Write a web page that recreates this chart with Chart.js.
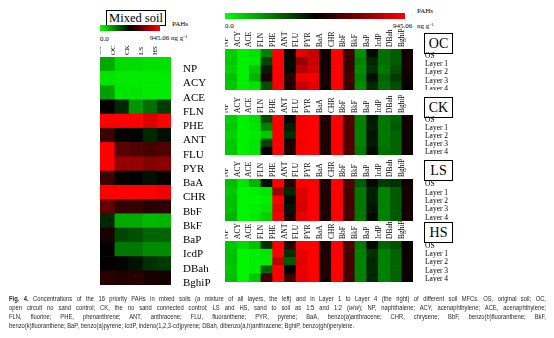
<!DOCTYPE html>
<html>
<head>
<meta charset="utf-8">
<script src="https://cdn.jsdelivr.net/npm/chart.js@4.4.0/dist/chart.umd.min.js"></script>
<style>
  html, body { margin: 0; padding: 0; background: #fff; }
  #page { position: relative; width: 554px; height: 338px; overflow: hidden;
          font-family: "Liberation Serif", "Times New Roman", serif; color: #000; }
  canvas { position: absolute; }
  .grad { position: absolute; height: 6px;
          background: linear-gradient(to right, #00ff00, #000000 50%, #ff0000); }
  .tiny { position: absolute; font-size: 7px; line-height: 8px; white-space: nowrap; }
  .tiny sup { font-size: 5px; vertical-align: 2px; line-height: 0; }
  .box { position: absolute; border: 1px solid #000; text-align: center; white-space: nowrap; }
  .cap { position: absolute; left: 9px; font-family: "Liberation Sans", sans-serif;
         font-size: 7px; line-height: 9px; white-space: nowrap; color: #231f20; transform-origin: 0 0; }
</style>
</head>
<body>
<div id="page">
  <!-- left legend -->
  <div class="box" style="left:106px; top:10px; width:58px; height:14px; font-size:12.5px; line-height:14px;">Mixed soil</div>
  <div class="grad" style="left:100px; top:25px; width:60px;"></div>
  <div class="tiny" style="left:172px; top:20px;">PAHs</div>
  <div class="tiny" style="left:100px; top:35px;">0.0</div>
  <div class="tiny" style="left:150px; top:34px;">945.06 ng g<sup>-1</sup></div>

  <!-- right legend -->
  <div class="grad" style="left:225px; top:13px; width:180px;"></div>
  <div class="tiny" style="left:417px; top:7px;">PAHs</div>
  <div class="tiny" style="left:225px; top:22px;">0.0</div>
  <div class="tiny" style="left:393px; top:22px;">945.06</div>
  <div class="tiny" style="left:417px; top:22px;">ng g<sup>-1</sup></div>

  <div class="box" style="left:424px; top:33px; width:27px; height:19px; font-size:14px; line-height:19px;">OC</div>
  <div class="box" style="left:424px; top:97px; width:27px; height:19px; font-size:14px; line-height:19px;">CK</div>
  <div class="box" style="left:424px; top:160px; width:27px; height:19px; font-size:14px; line-height:19px;">LS</div>
  <div class="box" style="left:424px; top:222px; width:27px; height:19px; font-size:14px; line-height:19px;">HS</div>

  <canvas id="mixedChart" width="120" height="255" style="left:100px; top:40px;"></canvas>
  <canvas id="ocChart" width="233" height="61" style="left:225px; top:29px;"></canvas>
  <canvas id="ckChart" width="233" height="60" style="left:225px; top:95px;"></canvas>
  <canvas id="lsChart" width="233" height="62" style="left:225px; top:159px;"></canvas>
  <canvas id="hsChart" width="233" height="61" style="left:225px; top:221px;"></canvas>

  <div class="cap" id="cap1" style="top:294px;"><b>Fig. 4.</b> Concentrations of the 16 priority PAHs in mixed soils (a mixture of all layers, the left) and in Layer 1 to Layer 4 (the right) of different soil MFCs. OS, original soil; OC,</div>
  <div class="cap" id="cap2" style="top:303px;">open circuit no sand control; CK, the no sand connected control; LS and HS, sand to soil as 1:5 and 1:2 (<i>w</i>/<i>w</i>); NP, naphthalene; ACY, acenaphthylene; ACE, acenaphthylene;</div>
  <div class="cap" id="cap3" style="top:312px;">FLN, fluorine; PHE, phenanthrene; ANT, anthracene; FLU, fluoranthene; PYR, pyrene; BaA, benzo(a)anthracene; CHR, chrysene; BbF, benzo(b)fluoranthene; BkF,</div>
  <div class="cap" id="cap4" style="top:321px;">benzo(k)fluoranthene; BaP, benzo(a)pyrene; IcdP, indeno(1,2,3-cd)pyrene; DBah, dibenzo(a,h)anthracene; BghiP, benzo(ghi)perylene.</div>
</div>

<script>
// Colour scale: 0 -> green, middle -> black, 945.06 ng/g -> red
const SCALE_MAX = 945.06;
const SERIF = '"Liberation Serif", "Times New Roman", serif';

const pahs = ['NP', 'ACY', 'ACE', 'FLN', 'PHE', 'ANT', 'FLU', 'PYR', 'BaA', 'CHR', 'BbF', 'BkF', 'BaP', 'IcdP', 'DBah', 'BghiP'];
const soils = ['OS', 'OC', 'CK', 'LS', 'HS'];
const layers = ['OS', 'Layer 1', 'Layer 2', 'Layer 3', 'Layer 4'];

// Mixed soil, one array per soil (NP ... BghiP), ng/g
const mixedOS = [158, 46, 176, 472, 990, 584, 990, 990, 584, 990, 658, 398, 519, 482, 482, 547];
const mixedOC = [65, 37, 46, 398, 990, 482, 640, 750, 482, 990, 565, 158, 343, 250, 463, 537];
const mixedCK = [65, 37, 46, 195, 990, 472, 621, 750, 472, 990, 575, 158, 324, 250, 435, 547];
const mixedLS = [56, 37, 37, 269, 880, 398, 602, 712, 445, 990, 547, 130, 287, 213, 380, 519];
const mixedHS = [56, 37, 37, 361, 960, 445, 621, 730, 482, 917, 556, 139, 287, 213, 361, 510];

// Layer panels, one array per row (OS, Layer 1 ... Layer 4), columns NP ... BghiP
const panelOC = [
    [83, 28, 56, 232, 990, 491, 899, 843, 510, 990, 584, 213, 454, 269, 306, 510],
    [102, 28, 37, 343, 990, 454, 750, 843, 510, 990, 584, 232, 398, 269, 306, 510],
    [83, 28, 102, 417, 990, 454, 806, 862, 510, 990, 584, 213, 380, 250, 324, 510],
    [120, 28, 139, 528, 990, 547, 917, 917, 519, 990, 602, 232, 445, 287, 361, 500],
    [102, 28, 46, 324, 990, 528, 843, 899, 510, 990, 584, 213, 398, 269, 324, 482]
];
const panelCK = [
    [83, 28, 56, 343, 990, 491, 927, 960, 528, 990, 621, 232, 426, 250, 287, 500],
    [102, 28, 46, 232, 990, 417, 927, 960, 528, 990, 621, 232, 417, 250, 306, 500],
    [83, 28, 37, 102, 990, 380, 936, 960, 528, 990, 621, 232, 435, 250, 287, 500],
    [102, 28, 46, 343, 990, 528, 927, 960, 528, 990, 621, 232, 426, 250, 287, 500],
    [102, 28, 46, 472, 990, 528, 936, 960, 528, 990, 621, 250, 454, 269, 287, 500]
];
const panelLS = [
    [120, 46, 139, 435, 990, 547, 936, 960, 528, 990, 621, 306, 454, 361, 380, 510],
    [102, 18, 28, 46, 769, 398, 880, 960, 528, 990, 602, 250, 417, 232, 306, 510],
    [120, 18, 18, 28, 936, 454, 880, 960, 528, 990, 602, 250, 417, 232, 306, 510],
    [120, 18, 28, 46, 899, 435, 862, 960, 528, 990, 602, 250, 435, 232, 306, 510],
    [139, 18, 37, 83, 917, 528, 899, 960, 528, 990, 602, 250, 454, 232, 306, 510]
];
const panelHS = [
    [102, 65, 120, 380, 990, 547, 936, 960, 528, 990, 621, 250, 454, 287, 324, 491],
    [120, 18, 28, 46, 990, 380, 899, 960, 528, 990, 602, 232, 380, 232, 287, 491],
    [120, 18, 28, 37, 825, 306, 880, 960, 528, 990, 602, 232, 398, 232, 287, 491],
    [102, 18, 28, 287, 990, 472, 899, 960, 528, 990, 602, 232, 398, 232, 287, 491],
    [120, 18, 102, 584, 990, 584, 899, 960, 528, 990, 602, 232, 398, 232, 287, 491]
];

function heatColor(v) {
    const t = Math.max(0, Math.min(1, v / SCALE_MAX));
    if (t < 0.5) return `rgb(0,${Math.round(255 * (1 - 2 * t))},0)`;
    return `rgb(${Math.round(255 * (2 * t - 1))},0,0)`;
}

// Heatmap as a horizontal stacked bar chart: one dataset per column, one unit per cell
function drawHeatmap(id, rowLabels, colLabels, valueAt, cfg) {
    const datasets = colLabels.map((c, j) => ({
        label: c,
        data: rowLabels.map(() => 1),
        backgroundColor: rowLabels.map((r, i) => heatColor(valueAt(i, j))),
        borderWidth: 0,
        barPercentage: 1,
        categoryPercentage: 1
    }));

    return new Chart(document.getElementById(id), {
        type: 'bar',
        data: { labels: rowLabels, datasets: datasets },
        options: {
            indexAxis: 'y',
            responsive: false,
            animation: false,
            layout: { padding: { bottom: cfg.padBottom || 0 } },
            plugins: { legend: { display: false }, tooltip: { enabled: false } },
            scales: {
                x: { stacked: true, min: 0, max: colLabels.length, display: false },
                y: {
                    stacked: true,
                    position: 'right',
                    offset: true,
                    grid: { display: false, drawTicks: false },
                    border: { display: false },
                    ticks: {
                        color: '#000',
                        font: { family: SERIF, size: cfg.rowFont },
                        padding: cfg.rowPad,
                        labelOffset: cfg.rowShift,
                        autoSkip: false
                    },
                    afterFit: s => { s.width = cfg.axisW; s.paddingTop = 0; s.paddingBottom = 0; }
                },
                xTop: {
                    type: 'category',
                    axis: 'x',
                    position: 'top',
                    labels: colLabels,
                    offset: true,
                    grid: { display: false, drawTicks: false },
                    border: { display: false },
                    ticks: {
                        color: '#000',
                        font: { family: SERIF, size: cfg.colFont },
                        padding: 2,
                        minRotation: 90,
                        maxRotation: 90,
                        autoSkip: false,
                        labelOffset: cfg.colShift
                    },
                    afterFit: s => { s.height = cfg.axisH; s.paddingLeft = 0; s.paddingRight = 0; }
                }
            }
        }
    });
}

const mixedBySoil = [mixedOS, mixedOC, mixedCK, mixedLS, mixedHS];
drawHeatmap('mixedChart', pahs, soils, (i, j) => mixedBySoil[j][i],
    { rowFont: 11, rowPad: 12, rowShift: 5, axisW: 49, colFont: 7, colShift: 0, axisH: 17, padBottom: 10 });

const panelCfg = { rowFont: 7.5, rowPad: 12, rowShift: 1, axisW: 45, colFont: 7.5, colShift: 4, axisH: 20 };
drawHeatmap('ocChart', layers, pahs, (i, j) => panelOC[i][j], Object.assign({}, panelCfg, { rowShift: 3 }));
drawHeatmap('ckChart', layers, pahs, (i, j) => panelCK[i][j], panelCfg);
drawHeatmap('lsChart', layers, pahs, (i, j) => panelLS[i][j], panelCfg);
drawHeatmap('hsChart', layers, pahs, (i, j) => panelHS[i][j], panelCfg);

// Caption: narrow the glyphs so the last line ends where it does in print,
// then justify the first three lines to the full column width
const CAP_W = 537;
const LAST_W = 345;
const cap4 = document.getElementById('cap4');
const capScale = Math.min(1, LAST_W / cap4.getBoundingClientRect().width);
['cap1', 'cap2', 'cap3', 'cap4'].forEach(id => {
    const el = document.getElementById(id);
    if (id !== 'cap4') {
        const w = el.getBoundingClientRect().width;
        const spaces = (el.textContent.match(/ /g) || []).length;
        el.style.wordSpacing = ((CAP_W / capScale - w) / spaces) + 'px';
    }
    el.style.transform = `scaleX(${capScale})`;
});
</script>
</body>
</html>
